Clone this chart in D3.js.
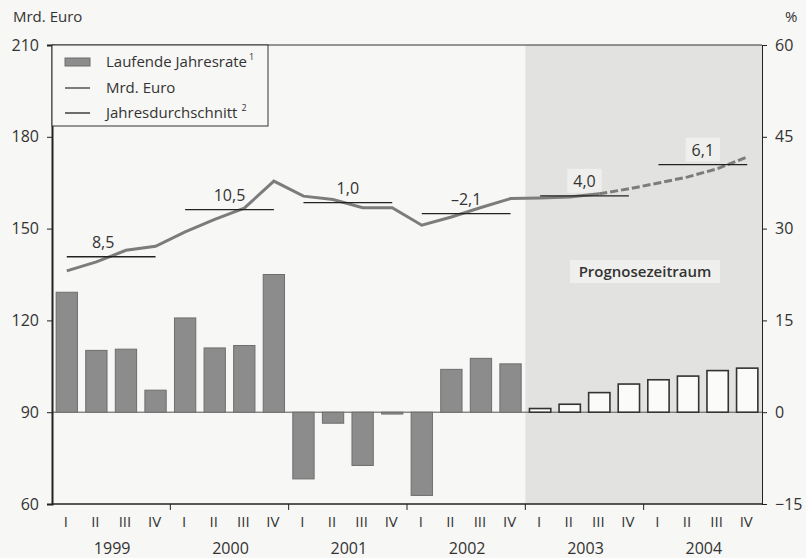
<!DOCTYPE html>
<html>
<head>
<meta charset="utf-8">
<script src="https://cdn.jsdelivr.net/npm/d3@7"></script>
<style>
  body { margin: 0; background: #f7f7f5; }
  svg { display: block; font-family: "Open Sans", sans-serif; }
</style>
</head>
<body>
<svg id="chart"></svg>
<script>
const years = ["1999", "2000", "2001", "2002", "2003", "2004"];
const quarters = ["I", "II", "III", "IV"];
// Laufende Jahresrate in % (right axis)
const rate = [19.6, 10.1, 10.3, 3.6, 15.4, 10.5, 10.9, 22.5,
              -10.9, -1.8, -8.7, -0.3, -13.6, 7.0, 8.8, 7.9,
              0.6, 1.3, 3.2, 4.6, 5.3, 5.9, 6.8, 7.2];
// Mrd. Euro (left axis)
const mrd = [136.2, 139.1, 142.9, 144.2, 148.9, 153.0, 156.7, 165.5,
             160.6, 159.5, 156.8, 156.8, 151.1, 153.8, 156.9, 159.8,
             160.0, 160.3, 161.4, 163.0, 164.9, 166.9, 169.6, 173.4];
// Jahresdurchschnitt (Mrd. Euro) and its growth label
const yearAvg = [140.8, 156.2, 158.5, 154.9, 160.7, 170.9];
const yearGrowth = ["8,5", "10,5", "1,0", "\u20132,1", "4,0", "6,1"];
const forecastFrom = 16; // 2003 Q1 (bars)
const dashFrom = 18;     // line dashed from 2003 Q3
const leftTicks = [60, 90, 120, 150, 180, 210];
const rightTicks = [-15, 0, 15, 30, 45, 60];

const width = 806, height = 558;
const mLeft = 52, mRight = 762, mTop = 45, mBottom = 504;

const svg = d3.select('#chart').attr('width', width).attr('height', height);

const keys = d3.range(24);
const x = d3.scaleBand().domain(keys).range([mLeft, mRight]).paddingInner(0.28).paddingOuter(0.14);
const xYear = d3.scaleBand().domain(years).range([mLeft, mRight]);
const yL = d3.scaleLinear().domain([60, 210]).range([mBottom, mTop]);
const yR = d3.scaleLinear().domain([-15, 60]).range([mBottom, mTop]);
const cx = i => x(i) + x.bandwidth() / 2;

// forecast shading
svg.append('rect')
    .attr('x', xYear('2003')).attr('y', mTop)
    .attr('width', mRight - xYear('2003')).attr('height', mBottom - mTop)
    .attr('fill', '#e2e2e0');

svg.append('rect')
    .attr('x', 570).attr('y', 260).attr('width', 150).attr('height', 23)
    .attr('fill', '#efefed');
svg.append('text')
    .attr('x', 645).attr('y', 276.5)
    .attr('text-anchor', 'middle')
    .attr('font-size', 15).attr('font-weight', 600).attr('fill', '#333')
    .text('Prognosezeitraum');

// zero line
svg.append('line')
    .attr('x1', mLeft).attr('x2', mRight)
    .attr('y1', yR(0)).attr('y2', yR(0))
    .attr('stroke', '#555').attr('stroke-width', 1);

// bars
svg.selectAll('.bar')
    .data(rate)
    .join('rect')
    .attr('class', 'bar')
    .attr('x', (d, i) => x(i))
    .attr('width', x.bandwidth())
    .attr('y', d => Math.min(yR(d), yR(0)))
    .attr('height', d => Math.abs(yR(d) - yR(0)))
    .attr('fill', (d, i) => i >= forecastFrom ? '#fbfbfa' : '#8c8c8c')
    .attr('stroke', (d, i) => i >= forecastFrom ? '#333' : '#6e6e6e')
    .attr('stroke-width', (d, i) => i >= forecastFrom ? 1.6 : 1);

// growth labels (boxes behind those in the forecast area)
const growth = svg.selectAll('.growth')
    .data(yearGrowth)
    .join('g')
    .attr('class', 'growth');
growth.append('text')
    .attr('x', (d, k) => xYear(years[k]) + xYear.bandwidth() / 2 - (k === 0 ? 8 : 0))
    .attr('y', (d, k) => yL(yearAvg[k]) - 9)
    .attr('text-anchor', 'middle')
    .attr('font-size', 16).attr('fill', '#333')
    .text(d => d);
growth.filter((d, k) => k >= 4).each(function () {
  const g = d3.select(this);
  const b = g.select('text').node().getBBox();
  g.insert('rect', 'text')
      .attr('x', b.x - 6).attr('y', b.y - 1)
      .attr('width', b.width + 12).attr('height', b.height + 2)
      .attr('fill', '#efefed');
});

// Mrd. Euro line
const line = d3.line().x(d => cx(d.i)).y(d => yL(d.v));
const pts = mrd.map((v, i) => ({ i, v }));
svg.append('path')
    .datum(pts.slice(0, dashFrom + 1))
    .attr('d', line)
    .attr('fill', 'none').attr('stroke', '#7c7c7c').attr('stroke-width', 3);
svg.append('path')
    .datum(pts.slice(dashFrom))
    .attr('d', line)
    .attr('fill', 'none').attr('stroke', '#7c7c7c').attr('stroke-width', 3)
    .attr('stroke-dasharray', '8,3');

// Jahresdurchschnitt
svg.selectAll('.avg')
    .data(yearAvg)
    .join('line')
    .attr('class', 'avg')
    .attr('x1', (d, k) => cx(k * 4))
    .attr('x2', (d, k) => cx(k * 4 + 3))
    .attr('y1', d => yL(d)).attr('y2', d => yL(d))
    .attr('stroke', '#222').attr('stroke-width', 1.3);

// frame
svg.append('line').attr('x1', mLeft).attr('x2', mRight).attr('y1', mTop).attr('y2', mTop)
    .attr('stroke', '#333').attr('stroke-width', 1);

// axes
const axL = svg.append('g').attr('transform', `translate(${mLeft},0)`)
    .call(d3.axisLeft(yL).tickValues(leftTicks).tickSize(5).tickPadding(8));
const axR = svg.append('g').attr('transform', `translate(${mRight},0)`)
    .call(d3.axisRight(yR).tickValues(rightTicks).tickSize(5).tickPadding(8).tickFormat(d => d < 0 ? '\u2212' + Math.abs(d) : d));
axL.select('.domain').attr('stroke-width', 2);
[axL, axR].forEach(a => {
  a.selectAll('.domain, .tick line').attr('stroke', '#222');
  a.selectAll('text').attr('font-size', 16).attr('fill', '#333').attr('font-family', '"Open Sans", sans-serif');
});

const axB = svg.append('g');
axB.append('line').attr('x1', mLeft).attr('x2', mRight).attr('y1', mBottom).attr('y2', mBottom)
    .attr('stroke', '#222').attr('stroke-width', 1.5);
axB.selectAll('.ytick')
    .data(years.slice(1))
    .join('line')
    .attr('x1', d => xYear(d)).attr('x2', d => xYear(d))
    .attr('y1', mBottom).attr('y2', mBottom + 6)
    .attr('stroke', '#222');
axB.selectAll('.qlab')
    .data(keys)
    .join('text')
    .attr('x', i => cx(i) - 1).attr('y', 527)
    .attr('text-anchor', 'middle')
    .attr('font-size', 15).attr('fill', '#333')
    .text(i => quarters[i % 4]);
axB.selectAll('.ylab')
    .data(years)
    .join('text')
    .attr('x', d => xYear(d) + xYear.bandwidth() / 2 + 1).attr('y', 554)
    .attr('text-anchor', 'middle')
    .attr('font-size', 16).attr('fill', '#333')
    .text(d => d);

// unit labels
svg.append('text').attr('x', 13).attr('y', 22).attr('font-size', 15).attr('fill', '#333').text('Mrd. Euro');
svg.append('text').attr('x', 785).attr('y', 22).attr('font-size', 15).attr('fill', '#333').text('%');

// legend
const lg = svg.append('g');
lg.append('rect').attr('x', mLeft).attr('y', mTop).attr('width', 216).attr('height', 81)
    .attr('fill', '#f7f7f5').attr('stroke', '#333').attr('stroke-width', 1);
lg.append('rect').attr('x', 65).attr('y', 58).attr('width', 25).attr('height', 8)
    .attr('fill', '#8c8c8c').attr('stroke', '#6e6e6e');
lg.append('line').attr('x1', 65).attr('x2', 90).attr('y1', 88).attr('y2', 88)
    .attr('stroke', '#7c7c7c').attr('stroke-width', 2);
lg.append('line').attr('x1', 65).attr('x2', 90).attr('y1', 113).attr('y2', 113)
    .attr('stroke', '#222').attr('stroke-width', 1.3);
const legendItems = [['Laufende Jahresrate', '1', 67], ['Mrd. Euro', '', 93], ['Jahresdurchschnitt', '2', 118]];
legendItems.forEach(([t, sup, y]) => {
  const tx = lg.append('text').attr('x', 106).attr('y', y).attr('font-size', 15).attr('fill', '#333').text(t);
  if (sup) tx.append('tspan').attr('dx', sup === '2' ? 4 : 2).attr('dy', -7).attr('font-size', 9).text(sup);
});
</script>
</body>
</html>
